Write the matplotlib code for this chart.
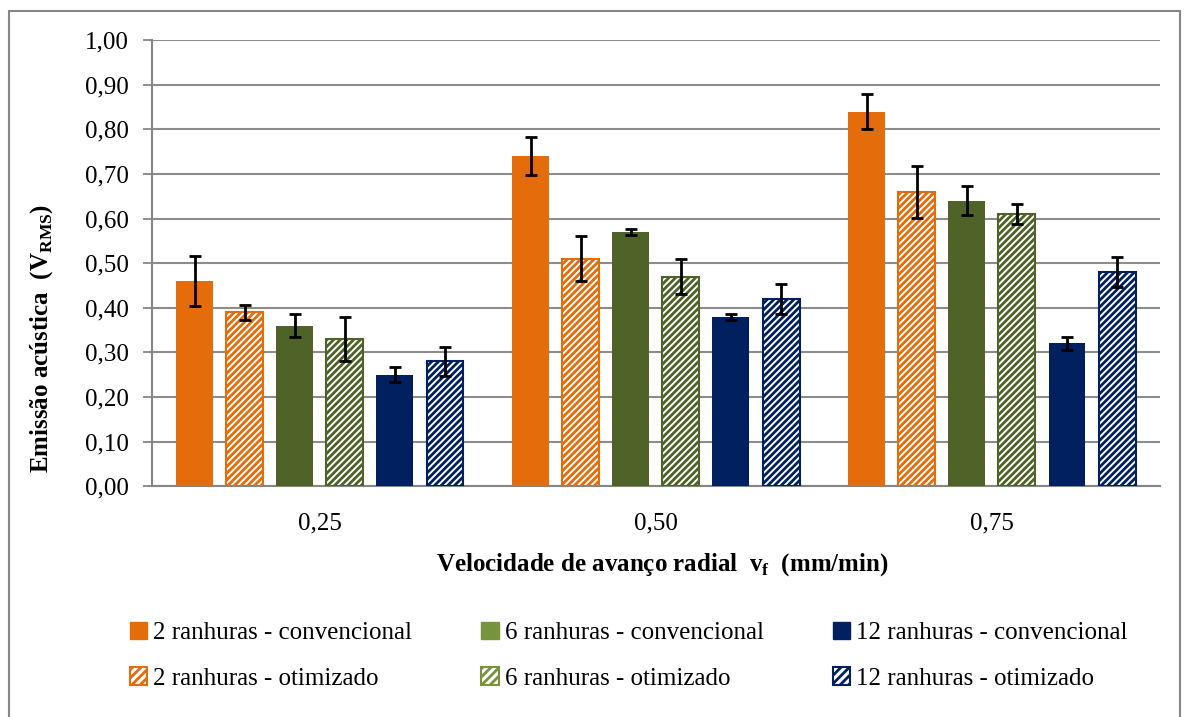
import numpy as np
import matplotlib.pyplot as plt
from matplotlib.patches import Rectangle, Patch

plt.rcParams['font.family'] = ['Liberation Serif', 'DejaVu Serif']
plt.rcParams['mathtext.fontset'] = 'custom'
plt.rcParams['mathtext.rm'] = 'Liberation Serif'
plt.rcParams['mathtext.bf'] = 'Liberation Serif:bold'
plt.rcParams['hatch.linewidth'] = 2.0

categorias = ['0,25', '0,50', '0,75']
series = ['2 ranhuras - convencional', '2 ranhuras - otimizado',
          '6 ranhuras - convencional', '6 ranhuras - otimizado',
          '12 ranhuras - convencional', '12 ranhuras - otimizado']
valores = [
    [0.46, 0.74, 0.84],
    [0.39, 0.51, 0.66],
    [0.36, 0.57, 0.64],
    [0.33, 0.47, 0.61],
    [0.25, 0.38, 0.32],
    [0.28, 0.42, 0.48],
]
erros = [
    [0.057, 0.042, 0.040],
    [0.017, 0.050, 0.058],
    [0.025, 0.007, 0.033],
    [0.050, 0.040, 0.023],
    [0.017, 0.007, 0.015],
    [0.033, 0.033, 0.033],
]
cores = ['#E46C0A', '#E46C0A', '#4F6228', '#4F6228', '#002060', '#002060']
cores_legenda = ['#E46C0A', '#E46C0A', '#77933C', '#77933C', '#002060', '#002060']
hachurado = [False, True, False, True, False, True]

fig = plt.figure(figsize=(11.86, 7.17), dpi=100)
ax = fig.add_axes([0.128, 0.322, 0.850, 0.622])

x = np.arange(len(categorias))
passo = 0.149
largura = 0.11
for j in range(len(series)):
    pos = x + (j - 2.5) * passo
    if hachurado[j]:
        ax.bar(pos, valores[j], largura, facecolor='white', edgecolor=cores[j],
               hatch='/////', linewidth=1.5, zorder=3)
    else:
        ax.bar(pos, valores[j], largura, color=cores[j], zorder=3)
    ax.errorbar(pos, valores[j], yerr=erros[j], fmt='none', ecolor='black',
                elinewidth=2.0, capsize=4.5, capthick=2.0, zorder=4)

ax.set_xlim(-0.5, 2.5)
ax.set_ylim(0, 1.0)
yt = np.arange(0, 1.01, 0.1)
ax.set_yticks(yt)
ax.set_yticklabels([f'{v:.2f}'.replace('.', ',') for v in yt], fontsize=18)
ax.set_xticks(x)
ax.set_xticklabels(categorias, fontsize=18)
ax.tick_params(axis='x', length=0, pad=19)
ax.tick_params(axis='y', direction='out', length=6.5, width=1.3, color='#868686', pad=10)
ax.yaxis.grid(True, color='#8C8C8C', linewidth=1.5, zorder=0)
ax.set_axisbelow(True)
for s in ['top', 'right']:
    ax.spines[s].set_visible(False)
for s in ['left', 'bottom']:
    ax.spines[s].set_color('#868686')
    ax.spines[s].set_linewidth(1.5)

fig.text(42 / 1186, 1 - 338 / 717, r'Emissão acústica  (V$_{\mathbf{RMS}}$)', fontsize=18,
         fontweight='bold', rotation=90, ha='center', va='center')
fig.text(662 / 1186, 1 - 565 / 717, r'Velocidade de avanço radial  v$_{\mathbf{f}}$  (mm/min)',
         fontsize=18, fontweight='bold', ha='center', va='center')

handles = []
for j in range(len(series)):
    if hachurado[j]:
        handles.append(Patch(facecolor='white', edgecolor=cores_legenda[j], hatch='////',
                             linewidth=1.5))
    else:
        handles.append(Patch(facecolor=cores_legenda[j], edgecolor=cores_legenda[j]))
fig.legend(handles, series, ncol=3, loc='upper left', bbox_to_anchor=(0.0987, 0.150),
           frameon=False, fontsize=18, handlelength=0.7, handleheight=0.7,
           handletextpad=0.25, columnspacing=2.75, labelspacing=0.91, borderpad=0)

fig.patches.append(Rectangle((9 / 1186, -0.01), 1171 / 1186, 1 - 11 / 717 + 0.01,
                             transform=fig.transFigure, fill=False,
                             edgecolor='#868686', linewidth=1.5))

fig.savefig('out.png', dpi=100)
